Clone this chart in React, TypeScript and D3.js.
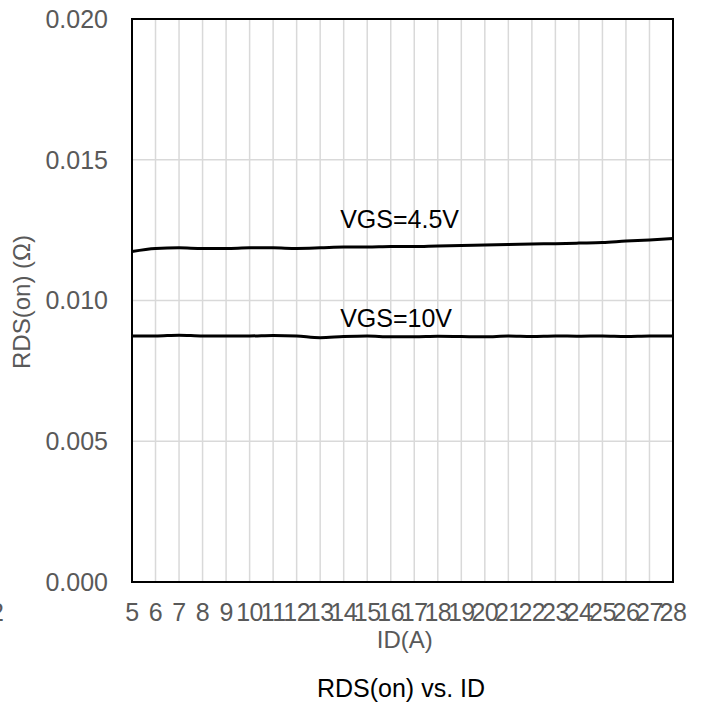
import { useEffect, useRef } from 'react';
import * as d3 from 'd3';

// drain current (A), one point per integer amp
const ids = [5, 6, 7, 8, 9, 10, 11, 12, 13, 14, 15, 16, 17, 18, 19, 20, 21, 22, 23, 24, 25, 26, 27, 28];

// RDS(on) in ohms
const rdsVgs45 = [
  0.01174, 0.01185, 0.01187, 0.01185, 0.01185, 0.01187, 0.01187, 0.01185, 0.01187, 0.0119,
  0.0119, 0.01192, 0.01192, 0.01194, 0.01195, 0.01197, 0.01199, 0.01201, 0.01202, 0.01204,
  0.01206, 0.01211, 0.01215, 0.0122,
];
const rdsVgs10 = [
  0.00874, 0.00874, 0.00877, 0.00874, 0.00874, 0.00874, 0.00876, 0.00874, 0.00868, 0.00872,
  0.00874, 0.00871, 0.00871, 0.00873, 0.00872, 0.00871, 0.00874, 0.00872, 0.00874, 0.00873,
  0.00874, 0.00872, 0.00874, 0.00874,
];

const yTicks = [0, 0.005, 0.01, 0.015, 0.02];

const seriesLabels = [
  { text: 'VGS=4.5V', at: 13.85, value: 0.01258 },
  { text: 'VGS=10V', at: 13.85, value: 0.00906 },
];

const FONT = '"Liberation Sans", Arial, sans-serif';

export default function App() {
  const svgRef = useRef<SVGSVGElement>(null);
  const width = 704;
  const height = 706;

  useEffect(() => {
    if (!svgRef.current) return;
    const svg = d3.select(svgRef.current);
    svg.selectAll('*').remove();

    const margin = { top: 19, right: 31, bottom: 124, left: 132 };
    const w = width - margin.left - margin.right;
    const h = height - margin.top - margin.bottom;

    const x = d3.scaleLinear().domain([5, 28]).range([0, w]);
    const y = d3.scaleLinear().domain([0, 0.02]).range([h, 0]);

    const g = svg.append('g').attr('transform', `translate(${margin.left},${margin.top})`);

    // grid
    g.selectAll('line.vg')
      .data(ids)
      .join('line')
      .attr('x1', (d) => x(d))
      .attr('x2', (d) => x(d))
      .attr('y1', 0)
      .attr('y2', h)
      .attr('stroke', '#d9d9d9')
      .attr('stroke-width', 1.5);

    g.selectAll('line.hg')
      .data(yTicks)
      .join('line')
      .attr('x1', 0)
      .attr('x2', w)
      .attr('y1', (d) => y(d))
      .attr('y2', (d) => y(d))
      .attr('stroke', '#d9d9d9')
      .attr('stroke-width', 1.5);

    // frame
    g.append('rect')
      .attr('width', w)
      .attr('height', h)
      .attr('fill', 'none')
      .attr('stroke', '#000')
      .attr('stroke-width', 2);

    // y tick labels
    g.selectAll('text.yt')
      .data(yTicks)
      .join('text')
      .attr('x', -24)
      .attr('y', (d) => y(d))
      .attr('dy', '0.35em')
      .attr('text-anchor', 'end')
      .attr('font-family', FONT)
      .attr('font-size', 25)
      .attr('fill', '#595959')
      .text((d) => d3.format('.3f')(d));

    // x tick labels (they overlap in the reference too)
    g.selectAll('text.xt')
      .data(ids)
      .join('text')
      .attr('x', (d) => x(d))
      .attr('y', h + 39)
      .attr('text-anchor', 'middle')
      .attr('font-family', FONT)
      .attr('font-size', 25)
      .attr('letter-spacing', -0.5)
      .attr('fill', '#595959')
      .text((d) => String(d));

    const line = d3.line<number>()
      .x((_d, i) => x(ids[i]))
      .y((d) => y(d))
      .curve(d3.curveMonotoneX);

    [rdsVgs45, rdsVgs10].forEach((s) => {
      g.append('path')
        .datum(s)
        .attr('d', line)
        .attr('fill', 'none')
        .attr('stroke', '#000')
        .attr('stroke-width', 3);
    });

    g.selectAll('text.sl')
      .data(seriesLabels)
      .join('text')
      .attr('x', (d) => x(d.at))
      .attr('y', (d) => y(d.value))
      .attr('font-family', FONT)
      .attr('font-size', 25)
      .attr('fill', '#000')
      .text((d) => d.text);

    // axis titles
    g.append('text')
      .attr('x', x(16.6))
      .attr('y', h + 66)
      .attr('text-anchor', 'middle')
      .attr('font-family', FONT)
      .attr('font-size', 24)
      .attr('fill', '#595959')
      .text('ID(A)');

    svg.append('text')
      .attr('transform', `translate(30,302) rotate(-90)`)
      .attr('text-anchor', 'middle')
      .attr('font-family', FONT)
      .attr('font-size', 24)
      .attr('fill', '#595959')
      .text('RDS(on) (Ω)');

    svg.append('text')
      .attr('x', 401)
      .attr('y', 697)
      .attr('text-anchor', 'middle')
      .attr('font-family', FONT)
      .attr('font-size', 25)
      .attr('fill', '#000')
      .text('RDS(on) vs. ID');

    // clipped stray label at the far left edge
    svg.append('text')
      .attr('x', 4)
      .attr('y', margin.top + h + 39)
      .attr('text-anchor', 'end')
      .attr('font-family', FONT)
      .attr('font-size', 25)
      .attr('fill', '#595959')
      .text('2');
  }, []);

  return (
    <svg
      ref={svgRef}
      width={width}
      height={height}
      style={{ position: 'absolute', left: 0, top: 0, display: 'block', background: '#fff' }}
    />
  );
}
